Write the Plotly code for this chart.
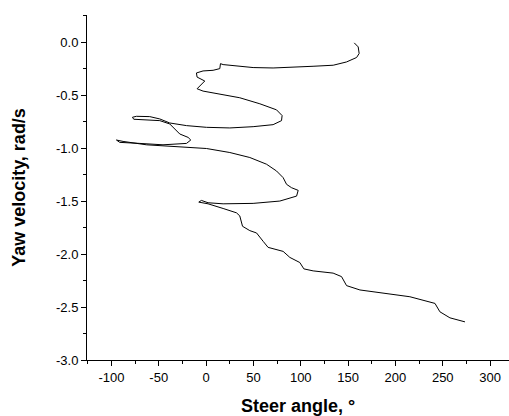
import plotly.graph_objects as go

steer_angle = [156.5, 160.7, 161.7, 159.0, 148.4, 134.3, 113.0, 95.5, 70.8, 49.7, 32.1, 18.0, 15.2, 14.5, 7.4,
               -3.2, -10.2, -9.5, -1.4, -4.9, -9.5, -3.2, 14.5, 35.6, 56.8, 74.4, 80.3, 79.7, 70.8, 49.7,
               25.1, 0.4, -20.7, -38.4, -48.9, -59.5, -73.6, -77.8, -76.4, -63.0, -48.9, -38.4, -33.1, -27.8,
               -19.0, -16.2, -20.7, -45.5, -70.0, -91.2, -94.7, -87.7, -63.0, -27.8, 0.4, 25.1, 46.2, 63.8,
               74.4, 81.4, 85.0, 90.3, 97.3, 95.6, 77.9, 49.7, 18.0, 2.1, -4.9, -7.7, 2.1, 18.0, 32.1, 35.6,
               38.5, 46.2, 53.3, 60.3, 65.5, 81.4, 88.5, 99.0, 103.3, 113.1, 134.2, 143.1, 148.4, 162.5, 187.1,
               215.3, 241.8, 247.0, 257.6, 273.5]
yaw_velocity = [-0.007, -0.045, -0.107, -0.145, -0.187, -0.218, -0.228, -0.234, -0.244, -0.240, -0.225, -0.212,
                -0.203, -0.250, -0.266, -0.272, -0.291, -0.330, -0.367, -0.400, -0.440, -0.462, -0.494, -0.525,
                -0.582, -0.639, -0.693, -0.741, -0.779, -0.798, -0.810, -0.804, -0.788, -0.763, -0.725, -0.703,
                -0.700, -0.709, -0.728, -0.731, -0.741, -0.772, -0.820, -0.867, -0.899, -0.924, -0.956, -0.969,
                -0.956, -0.946, -0.924, -0.937, -0.969, -0.988, -1.004, -1.042, -1.089, -1.152, -1.216, -1.279,
                -1.342, -1.374, -1.399, -1.453, -1.500, -1.522, -1.526, -1.516, -1.494, -1.510, -1.526, -1.570,
                -1.611, -1.640, -1.738, -1.779, -1.801, -1.880, -1.937, -1.975, -2.032, -2.080, -2.140, -2.159,
                -2.180, -2.213, -2.298, -2.339, -2.371, -2.403, -2.466, -2.545, -2.602, -2.640]

x_tickvals = [-100, -50, 0, 50, 100, 150, 200, 250, 300]
x_ticktext = ["-100", "-50", "0", "50", "100", "150", "200", "250", "300"]
y_tickvals = [0.0, -0.5, -1.0, -1.5, -2.0, -2.5, -3.0]
y_ticktext = ["0.0", "-0.5", "-1.0", "-1.5", "-2.0", "-2.5", "-3.0"]

fig = go.Figure()
fig.add_trace(go.Scatter(x=steer_angle, y=yaw_velocity, mode="lines",
                         line=dict(color="black", width=1), showlegend=False))

font = "Liberation Sans, Arial, sans-serif"
fig.update_layout(
    width=509, height=416,
    margin=dict(l=87, r=0, t=15, b=56),
    paper_bgcolor="white", plot_bgcolor="white",
    font=dict(family=font, color="black", size=13),
)
fig.update_xaxes(
    range=[-125.8, 320], showgrid=False, zeroline=False,
    showline=True, linecolor="black", linewidth=1,
    ticks="outside", ticklen=5, tickcolor="black", tickwidth=1,
    tickmode="array", tickvals=x_tickvals, ticktext=x_ticktext,
    tickfont=dict(size=13, family=font),
    minor=dict(tickmode="linear", tick0=-125, dtick=25, ticklen=3, tickcolor="black", ticks="outside", showgrid=False),
    title=dict(text="<b>Steer angle, °</b>", font=dict(size=18, family=font), standoff=15),
)
fig.update_yaxes(
    range=[-3.0, 0.256], showgrid=False, zeroline=False,
    showline=True, linecolor="black", linewidth=1,
    ticks="outside", ticklen=5, tickcolor="black", tickwidth=1,
    tickmode="array", tickvals=y_tickvals, ticktext=y_ticktext,
    tickfont=dict(size=13, family=font),
    minor=dict(tickmode="linear", tick0=0, dtick=0.25, ticklen=3, tickcolor="black", ticks="outside", showgrid=False),
    title=dict(text="<b>Yaw velocity, rad/s</b>", font=dict(size=18, family=font), standoff=25),
)

fig.write_html("out.html")
